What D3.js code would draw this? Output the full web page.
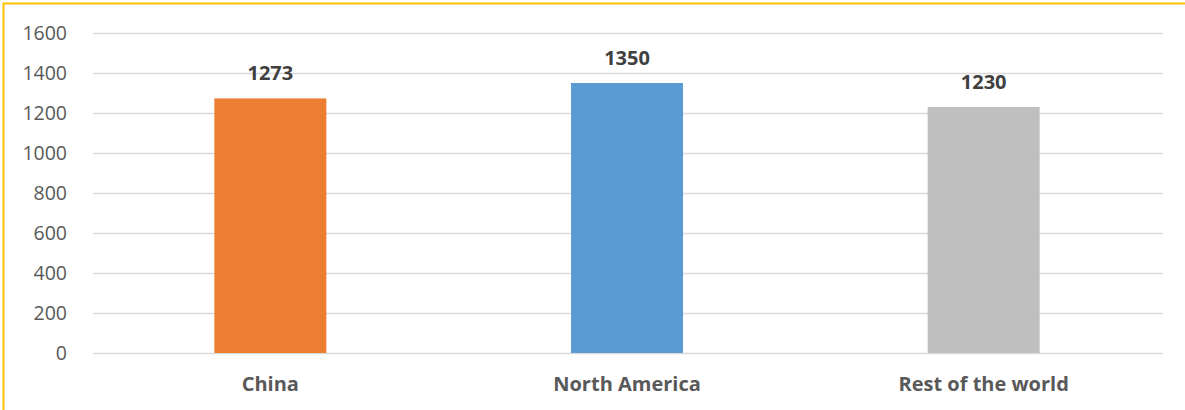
<!DOCTYPE html>
<html>
<head>
<meta charset="utf-8">
<script src="https://cdn.jsdelivr.net/npm/d3@7"></script>
<style>
  body { margin: 0; background: #fff; }
  svg { display: block; font-family: "Open Sans", sans-serif; }
</style>
</head>
<body>
<svg width="1185" height="410"></svg>
<script>
const categories = ["China", "North America", "Rest of the world"];
const values = [1273, 1350, 1230];
const barColors = ["#ED7D31", "#5B9BD5", "#BFBFBF"];
const yTicks = [0, 200, 400, 600, 800, 1000, 1200, 1400, 1600];

let svg = d3.select("svg"),
  plotLeft = 93, plotRight = 1163, plotTop = 33, plotBottom = 353;

// chart frame (only top and left edges visible)
svg.append("rect")
  .attr("x", 3.5).attr("y", 3.5)
  .attr("width", 1300).attr("height", 500)
  .attr("fill", "none")
  .attr("stroke", "#FFC000")
  .attr("stroke-width", 2);

let x = d3.scaleBand()
  .domain(categories)
  .range([plotLeft - 1, plotRight - 1])
  .paddingInner(0.686)
  .paddingOuter(0.343);

let y = d3.scaleLinear()
  .domain([0, 1600])
  .range([plotBottom, plotTop]);

// gridlines + tick labels
let yAxis = svg.append("g")
  .attr("transform", "translate(" + plotLeft + ",0)")
  .call(d3.axisLeft(y).tickValues(yTicks).tickFormat(d3.format("d"))
    .tickSize(-(plotRight - plotLeft)).tickPadding(26));
yAxis.select(".domain").remove();
yAxis.selectAll(".tick line").attr("stroke", "#D9D9D9").attr("stroke-width", 1.5);
yAxis.selectAll(".tick text")
  .attr("fill", "#595959")
  .style("font-size", "19.5px")
  .style("font-family", "'Open Sans', sans-serif");

// bars
svg.selectAll(".bar")
  .data(values)
  .enter().append("rect")
  .attr("class", "bar")
  .attr("x", (d, i) => x(categories[i]))
  .attr("y", (d) => y(d))
  .attr("width", x.bandwidth())
  .attr("height", (d) => plotBottom - y(d))
  .attr("fill", (d, i) => barColors[i]);

// value labels
svg.selectAll(".val")
  .data(values)
  .enter().append("text")
  .attr("class", "val")
  .attr("x", (d, i) => x(categories[i]) + x.bandwidth() / 2)
  .attr("y", (d) => y(d) - 18)
  .attr("text-anchor", "middle")
  .attr("fill", "#404040")
  .style("font-size", "20px")
  .style("font-weight", "bold")
  .text((d) => d);

// category labels
svg.selectAll(".cat")
  .data(categories)
  .enter().append("text")
  .attr("class", "cat")
  .attr("x", (d) => x(d) + x.bandwidth() / 2)
  .attr("y", 391)
  .attr("text-anchor", "middle")
  .attr("fill", "#595959")
  .style("font-size", "20px")
  .style("font-weight", "bold")
  .text((d) => d);
</script>
</body>
</html>
